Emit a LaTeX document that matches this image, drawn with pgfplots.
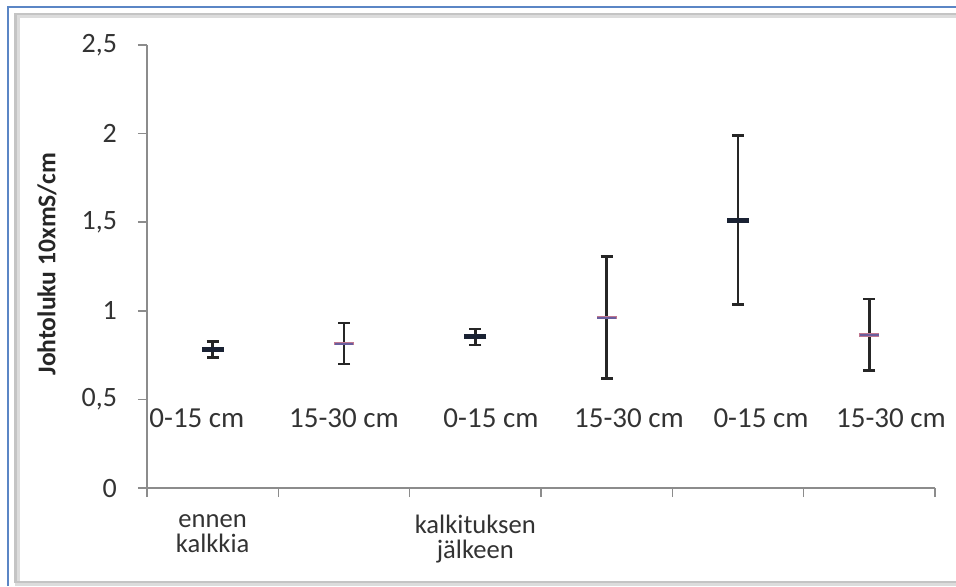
\documentclass[border=0pt]{standalone}
\usepackage{pgfplots}
\pgfplotsset{compat=1.18}
\usepackage{pgfplotstable}
\usepackage{fontspec}
\setmainfont{Carlito}
\definecolor{txt}{HTML}{333333}
\definecolor{axgray}{HTML}{8C8C8C}
\definecolor{framegray}{HTML}{C4C4C4}
\definecolor{frameblue}{HTML}{5B86C5}
\definecolor{markA}{HTML}{1A2233}
\definecolor{markBo}{HTML}{C07890}
\definecolor{markBi}{HTML}{6A5E9E}

\pgfplotstableread{
x y err
0 0.782 0.045
2 0.853 0.046
4 1.512 0.477
}\seriesA
\pgfplotstableread{
x y err
1 0.815 0.115
3 0.962 0.345
5 0.865 0.202
}\seriesB

\begin{document}
\begin{tikzpicture}
\useasboundingbox (0,0) rectangle (478pt,293pt);
% outer frame
\draw[frameblue, line width=1pt] (4pt,0pt) -- (4pt,289.5pt) -- (480pt,289.5pt);
\draw[framegray!60, line width=2.5pt] (8.5pt,1.5pt) rectangle (482pt,285.5pt);
\draw[framegray, line width=1.3pt] (7.75pt,2pt) rectangle (481pt,286pt);
\begin{axis}[
  at={(73.5pt,49pt)}, anchor=south west,
  scale only axis, width=394pt, height=221.5pt,
  xmin=-0.5, xmax=5.5, ymin=0, ymax=2.5,
  axis x line=bottom, axis y line=left,
  axis line style={-, axgray, line width=0.8pt},
  tick align=outside,
  major tick length=4.5pt,
  every tick/.style={axgray, line width=0.8pt},
  xtick={-0.5,0.5,...,5.5}, xticklabels={},
  extra x ticks={0,2},
  extra x tick labels={ennen\\kalkkia, kalkituksen\\jälkeen},
  extra x tick style={major tick length=0pt,
     tick label style={align=center, yshift=-10pt,
       font=\fontsize{13.3}{12.5}\selectfont}},
  ytick={0,0.5,...,2.5},
  /pgf/number format/.cd, use comma, assume math mode=true,
  /pgfplots/.cd,
  tick label style={font=\fontsize{14}{13}\selectfont, text=txt},
  yticklabel style={xshift=-7pt},
  ylabel={Johtoluku 10xmS/cm},
  ylabel style={at={(axis description cs:-0.127,0.505)}, anchor=center,
     font=\fontsize{12.8}{14}\selectfont\bfseries, text=black!85},
  clip=false,
]
\addplot[only marks, mark=-, mark size=5.5pt,
  mark options={line width=2.5pt, draw=markA},
  error bars/.cd, y dir=both, y explicit,
  error bar style={line width=1.2pt, draw=black!85},
  error mark options={rotate=90, mark size=3pt, line width=1.2pt, draw=black!85}]
  table[x=x, y=y, y error=err] {\seriesA};
\addplot[only marks, mark=-, mark size=5pt,
  mark options={line width=1.8pt, draw=markBo},
  error bars/.cd, y dir=both, y explicit,
  error bar style={line width=1.2pt, draw=black!85},
  error mark options={rotate=90, mark size=3pt, line width=1.2pt, draw=black!85}]
  table[x=x, y=y, y error=err] {\seriesB};
\addplot[only marks, mark=-, mark size=4.6pt,
  mark options={line width=1pt, draw=markBi}]
  table[x=x, y=y] {\seriesB};
% data labels
\begin{scope}[every node/.style={font=\fontsize{14.5}{13}\selectfont, text=txt}]
\node at (axis cs:-0.12,0.395) {0-15 cm};
\node at (axis cs:1.0,0.395) {15-30 cm};
\node at (axis cs:2.119,0.395) {0-15 cm};
\node at (axis cs:3.170,0.395) {15-30 cm};
\node at (axis cs:4.175,0.395) {0-15 cm};
\node at (axis cs:5.165,0.395) {15-30 cm};
\end{scope}
\end{axis}
\end{tikzpicture}
\end{document}
